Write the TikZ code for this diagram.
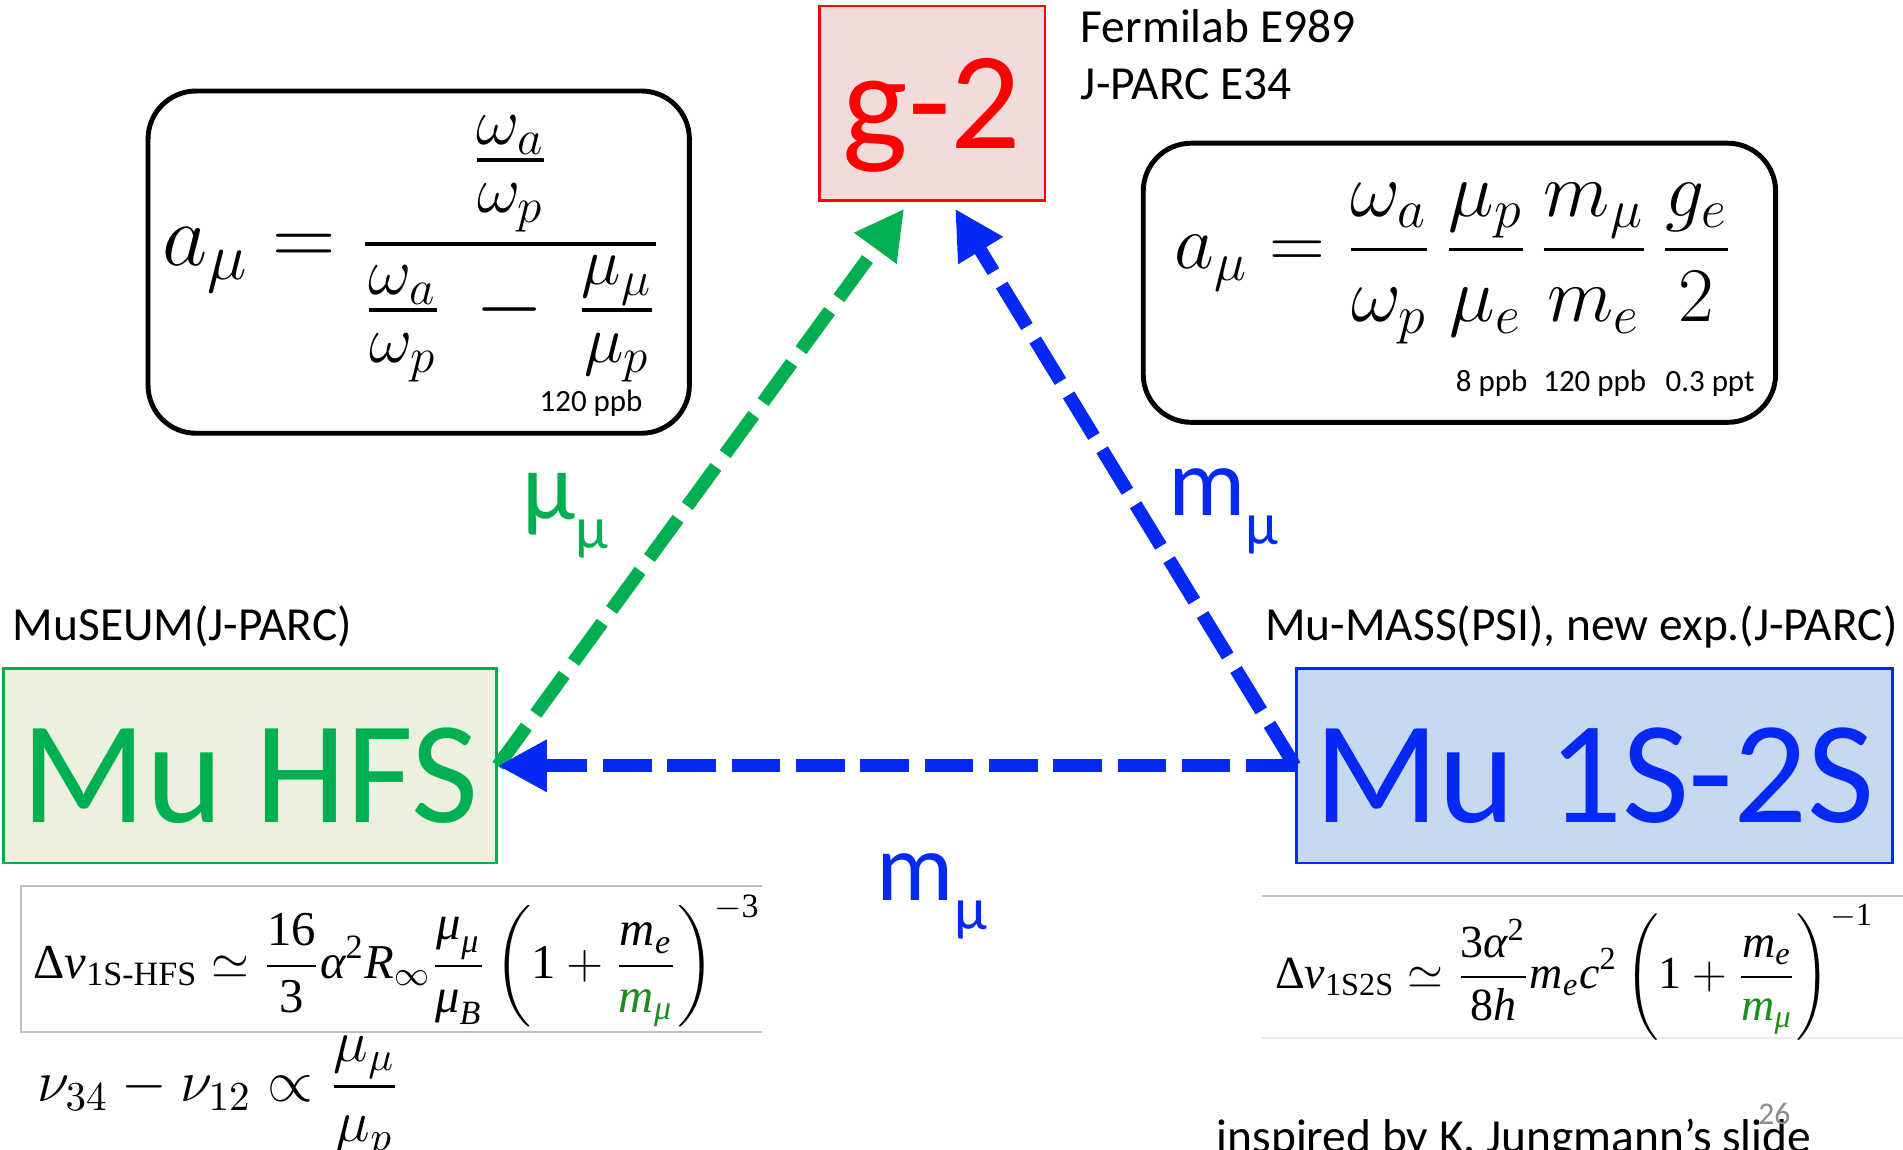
\RequirePackage{fix-cm}
\documentclass[tikz,border=0pt]{standalone}
\usepackage{amsmath}
\usepackage[no-math]{fontspec}
\setmainfont{Carlito}
\newfontfamily\timesf{Liberation Serif}
\usetikzlibrary{arrows.meta}
\DeclareMathSizes{25}{25}{19}{14}
\definecolor{mgreen}{HTML}{00B050}
\definecolor{mblue}{HTML}{0529F5}
\definecolor{mred}{HTML}{FF0000}
\definecolor{pinkfill}{HTML}{F2DCDB}
\definecolor{greenfill}{HTML}{EBF1DE}
\definecolor{bluefill}{HTML}{C6D9F1}
\definecolor{texgreen}{HTML}{1E8C1E}
\newcommand{\ti}[1]{\text{\timesf\itshape #1}}
\newcommand{\tr}[1]{\text{\timesf #1}}
\newcommand{\musub}[1]{#1\raisebox{-0.3em}{\fontsize{17}{17}\selectfont μ}}

\begin{document}
\begin{tikzpicture}[x=0.12136mm,y=-0.12136mm,
  expbox/.style={draw,line width=0.8pt,minimum height=19.42mm,inner sep=0},
  fbox/.style={draw,line width=1.4pt,rounded corners=4.8mm,inner sep=0},
  dasharrow/.style={line width=3.8pt,dash pattern=on 4.85mm off 1.58mm,
    -{Triangle[length=4.9mm,width=4.9mm]}},
  plain/.style={anchor=base west,inner sep=0,font=\fontsize{13.5}{16}\selectfont},
  prec/.style={anchor=base,inner sep=0,font=\fontsize{8.8}{10}\selectfont},
  lbl/.style={anchor=base west,inner sep=0,font=\fontsize{27.5}{30}\selectfont},
  fline/.style={draw=black!25,line width=0.6pt}]
\useasboundingbox (0,0) rectangle (1568,947);

\node[expbox,draw=mred,fill=pinkfill,minimum width=22.57mm,text=mred,
  font=\fontsize{39.5}{40}\selectfont,text height=34pt,text depth=8pt] (g2) at (768,85) {g-2};
\node[expbox,draw=mgreen,fill=greenfill,minimum width=49.27mm,text=mgreen,
  font=\fontsize{41.5}{42}\selectfont,text height=32.4pt,text depth=0pt] (hfs) at (206,631) {Mu HFS};
\node[expbox,draw=mblue,fill=bluefill,minimum width=59.59mm,text=mblue,
  font=\fontsize{41.5}{42}\selectfont,text height=32.4pt,text depth=0pt] (ss) at (1313.5,631) {Mu 1S-2S};

\node[plain] (fermi) at (890,35) {Fermilab E989};
\node[plain] (jparc) at (890,82) {J-PARC E34};
\node[plain] (museum) at (10,528) {MuSEUM(J-PARC)};
\node[plain] (mumass) at (1042,528) {Mu-MASS(PSI), new exp.(J-PARC)};

\node[fbox,minimum width=54.13mm,minimum height=34.22mm] (lbox) at (345,216) {};
\node[fbox,minimum width=63.23mm,minimum height=27.91mm] (rbox) at (1202.5,233) {};
\node[anchor=west,inner sep=0,font=\fontsize{25}{28}\selectfont] (aleft) at (133,205)
  {$\displaystyle a_\mu = \frac{\frac{\omega_a}{\omega_p}}{\frac{\omega_a}{\omega_p} \,-\, \frac{\mu_\mu}{\mu_p}}$};
\node[anchor=west,inner sep=0,font=\fontsize{22}{26}\selectfont] (aright) at (967,217)
  {$\displaystyle a_\mu = \frac{\omega_a}{\omega_p}\,\frac{\mu_p}{\mu_e}\,\frac{m_\mu}{m_e}\,\frac{g_e}{2}$};
\node[prec] (pl) at (487,339) {120 ppb};
\node[prec] (p1) at (1229,323) {8 ppb};
\node[prec] (p2) at (1314,323) {120 ppb};
\node[prec] (p3) at (1409,323) {0.3 ppt};

\coordinate (gL) at (745,172);
\coordinate (gR) at (787,172);
\draw[dasharrow,mgreen] (hfs.east) -- (gL);
\draw[dasharrow,mblue] (ss.west) -- (gR);
\draw[dasharrow,mblue] (ss.west) -- (hfs.east);

\node[lbl,text=mgreen] (lmu) at (430,428) {\musub{μ}};
\node[lbl,text=mblue] (lmr) at (962,425) {\musub{m}};
\node[lbl,text=mblue] (lmb) at (722,742) {\musub{m}};

\draw[fline] (628,730) -- (17,730) -- (17,850) -- (628,850);
\node[anchor=west,inner sep=0,font=\fontsize{13.85}{18}\selectfont] (hfsf) at (27,792)
  {$\displaystyle \tr{Δ}\ti{ν}_{\tr{1S-HFS}} \simeq \frac{\tr{16}}{\tr{3}}\ti{α}^{\tr{2}}\ti{R}_{\infty}\frac{\ti{μ}_{\ti{μ}}}{\ti{μ}_{\ti{B}}}\left(\tr{1}+\frac{\ti{m}_{\ti{e}}}{\color{texgreen}\ti{m}_{\ti{μ}}}\right)^{-\tr{3}}$};
\node[anchor=west,inner sep=0,font=\fontsize{16.7}{20}\selectfont] (nuf) at (30,904)
  {$\displaystyle \nu_{34}-\nu_{12}\propto\frac{\mu_\mu}{\mu_p}$};

\draw[fline] (1040,738) -- (1568,738);
\draw[draw=black!8,line width=0.6pt] (1040,855) -- (1568,855);
\node[anchor=west,inner sep=0,font=\fontsize{13.1}{17}\selectfont] (ssf) at (1050,801)
  {$\displaystyle \tr{Δ}\ti{ν}_{\tr{1S2S}} \simeq \frac{\tr{3}\ti{α}^{\tr{2}}}{\tr{8}\ti{h}}\ti{m}_{\ti{e}}\ti{c}^{\tr{2}}\left(\tr{1}+\frac{\ti{m}_{\ti{e}}}{\color{texgreen}\ti{m}_{\ti{μ}}}\right)^{-\tr{1}}$};

\node[plain] (insp) at (1002,950) {inspired by K. Jungmann’s slide};
\node[inner sep=0,text=black!45,font=\fontsize{9}{9}\selectfont] (pg) at (1462,918) {26};
\end{tikzpicture}
\end{document}
